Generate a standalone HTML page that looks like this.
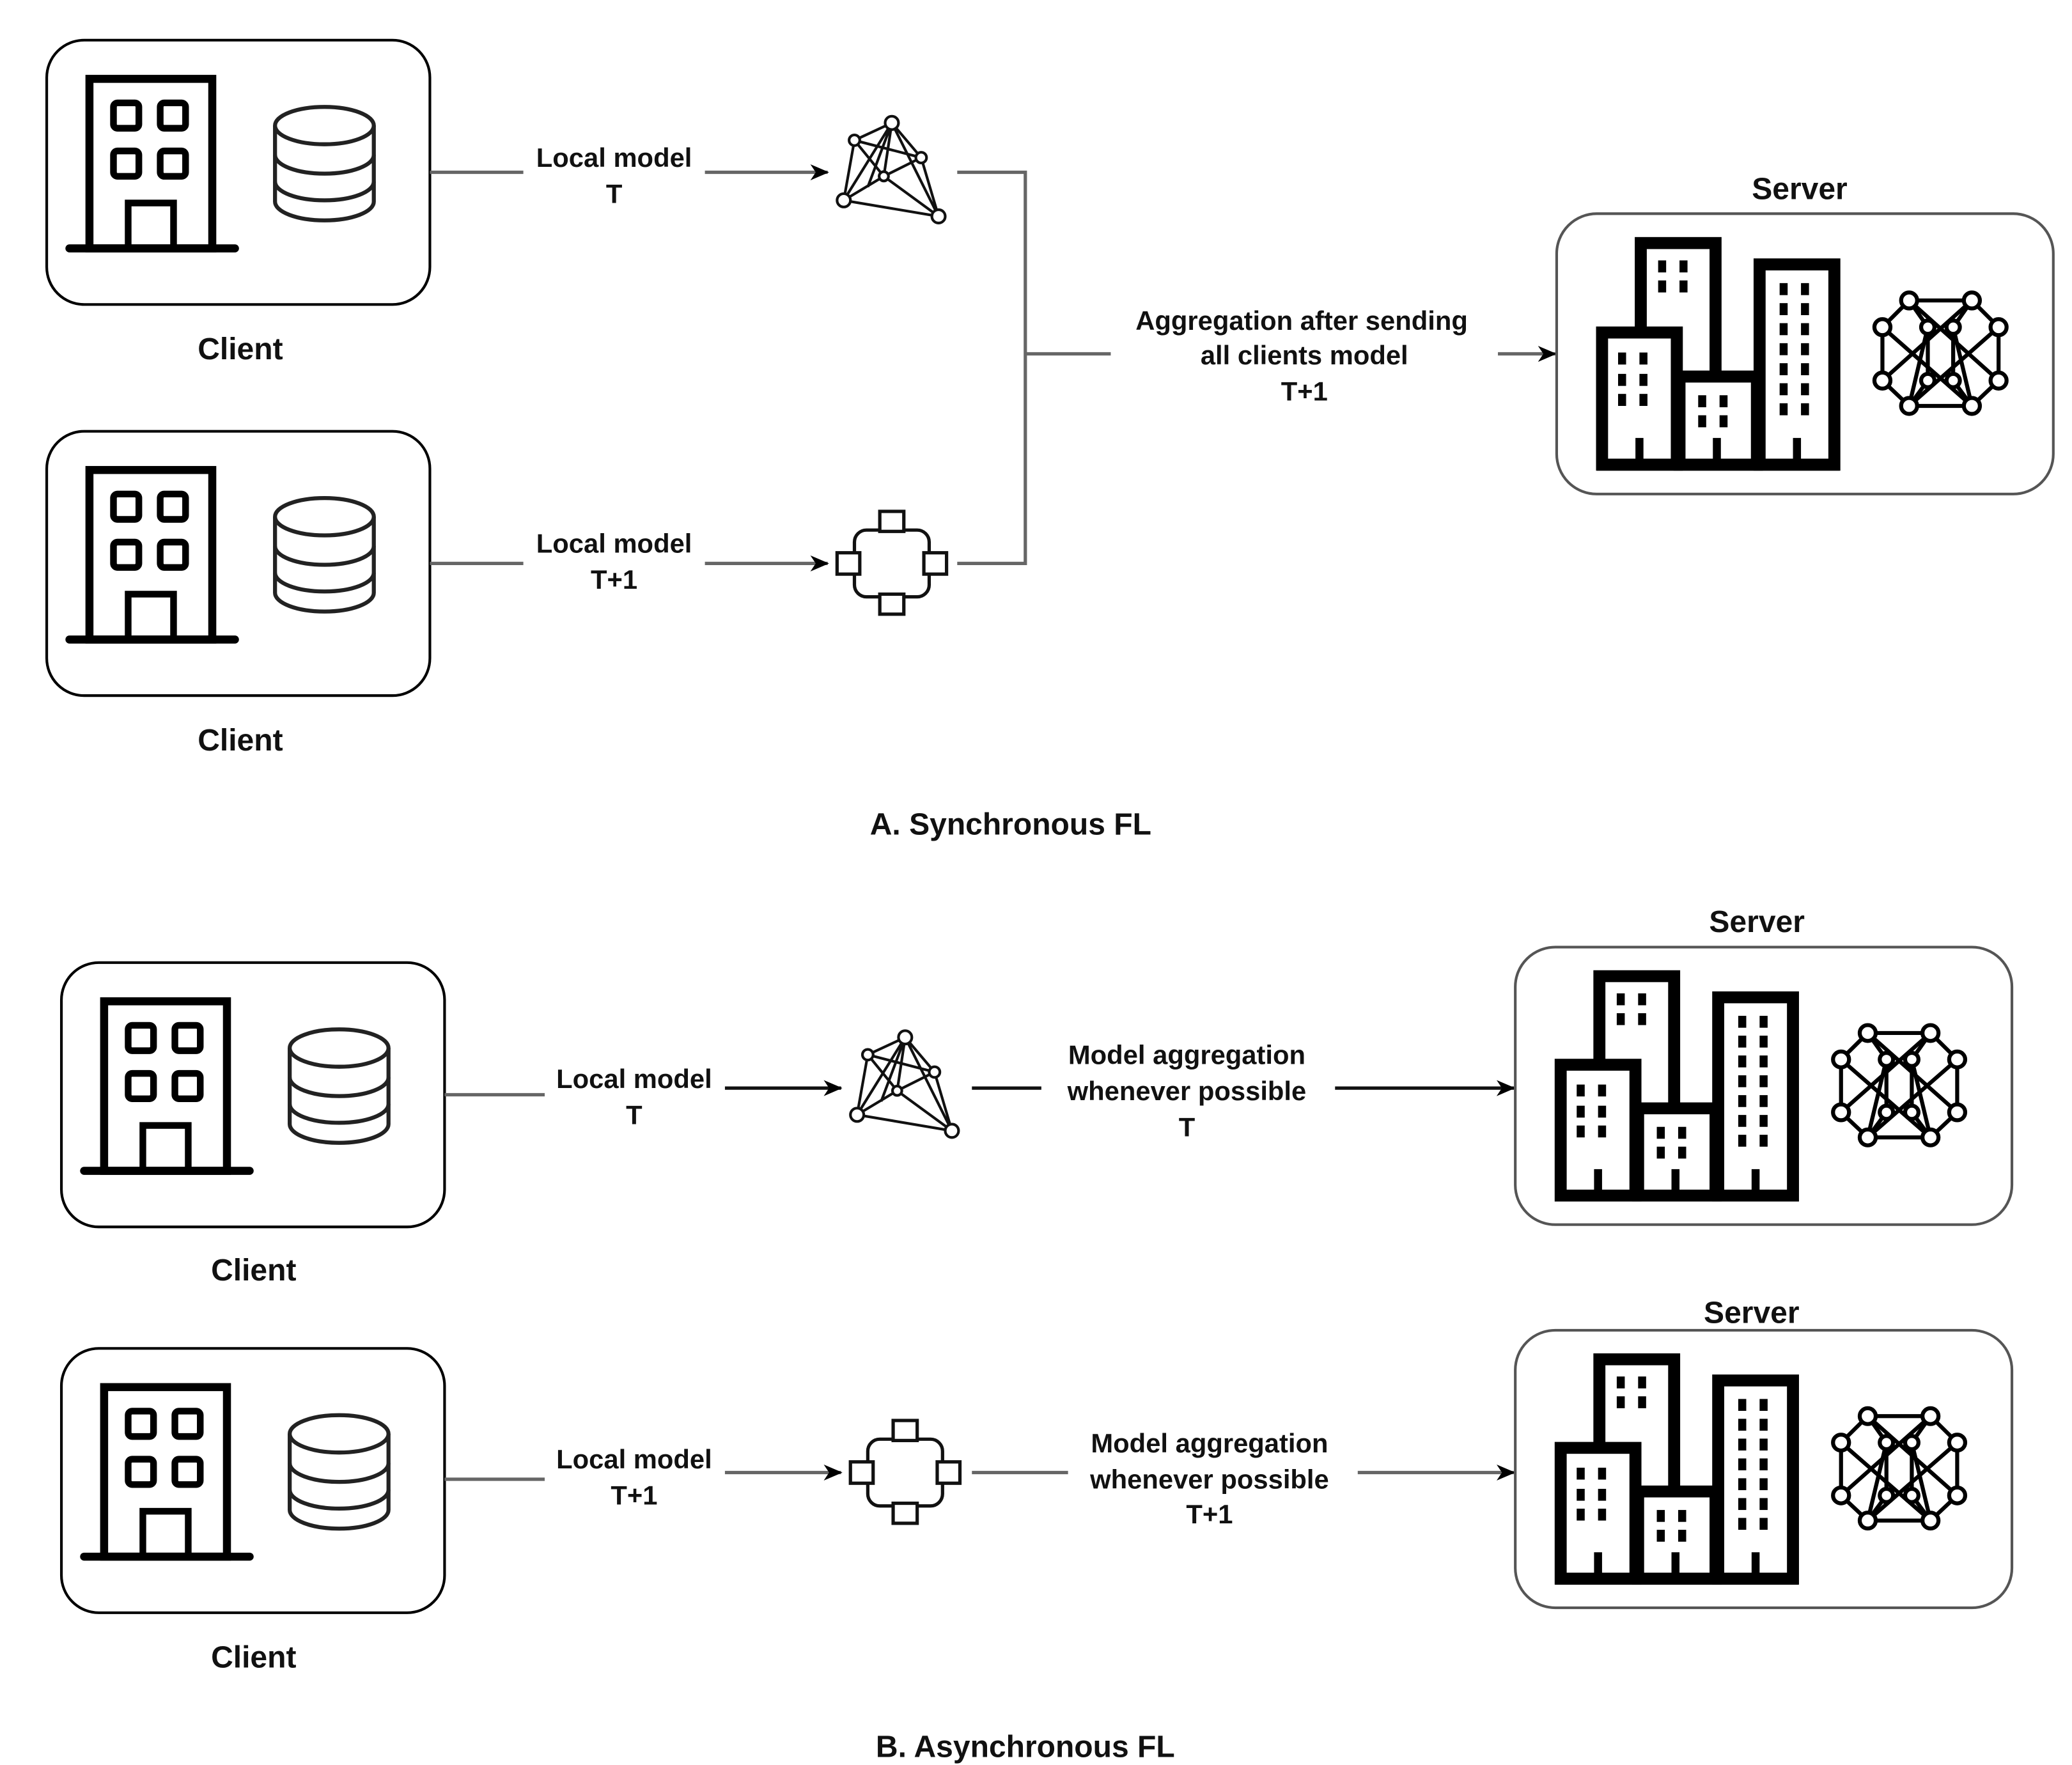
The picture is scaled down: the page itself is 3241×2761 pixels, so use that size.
<!DOCTYPE html>
<html><head><meta charset="utf-8"><style>
html,body{margin:0;padding:0;background:#fff;}
svg{display:block;}
text{font-family:"Liberation Sans",Arial,sans-serif;font-weight:bold;fill:#111;text-anchor:middle;}
</style></head><body>
<svg width="3241" height="2761" viewBox="0 0 1552 1322" xmlns="http://www.w3.org/2000/svg">
<defs>
<g id="bldg">
  <line x1="52" y1="186" x2="176" y2="186" stroke="#000" stroke-width="6" stroke-linecap="round"/>
  <rect x="67" y="59" width="92" height="127" fill="none" stroke="#000" stroke-width="6"/>
  <rect x="85" y="77" width="19" height="19" rx="3" fill="none" stroke="#000" stroke-width="5"/>
  <rect x="120" y="77" width="19" height="19" rx="3" fill="none" stroke="#000" stroke-width="5"/>
  <rect x="85" y="113" width="19" height="19" rx="3" fill="none" stroke="#000" stroke-width="5"/>
  <rect x="120" y="113" width="19" height="19" rx="3" fill="none" stroke="#000" stroke-width="5"/>
  <rect x="96" y="152" width="34" height="34" fill="none" stroke="#000" stroke-width="5"/>
  <g fill="none" stroke="#222" stroke-width="3">
    <path d="M206,94 V151 A37,14 0 0 0 280,151 V94"/>
    <ellipse cx="243" cy="94" rx="37" ry="14" fill="#fff"/>
    <path d="M206,116 A37,14 0 0 0 280,116"/>
    <path d="M206,136 A37,14 0 0 0 280,136"/>
  </g>
</g>
<g id="client">
  <rect x="35" y="30" width="287" height="198" rx="28" fill="#fff" stroke="#000" stroke-width="2"/>
  <use href="#bldg"/>
</g>
<g id="city">
  <g fill="#fff" stroke="#000" stroke-width="9">
    <rect x="1229" y="182" width="56" height="140"/>
    <rect x="1318" y="198" width="56" height="150"/>
    <rect x="1200" y="249" width="56" height="99"/>
    <rect x="1258" y="282" width="58" height="66"/>
  </g>
  <line x1="1196" y1="348" x2="1378" y2="348" stroke="#000" stroke-width="9"/>
  <g fill="#000">
    <rect x="1242" y="195" width="6" height="9"/><rect x="1258" y="195" width="6" height="9"/>
    <rect x="1242" y="210" width="6" height="9"/><rect x="1258" y="210" width="6" height="9"/>
    <rect x="1212" y="264" width="6" height="9"/><rect x="1228" y="264" width="6" height="9"/>
    <rect x="1212" y="280" width="6" height="9"/><rect x="1228" y="280" width="6" height="9"/>
    <rect x="1212" y="295" width="6" height="9"/><rect x="1228" y="295" width="6" height="9"/>
    <rect x="1272" y="296" width="6" height="9"/><rect x="1288" y="296" width="6" height="9"/>
    <rect x="1272" y="311" width="6" height="9"/><rect x="1288" y="311" width="6" height="9"/>
    <rect x="1333" y="212" width="6" height="9"/><rect x="1349" y="212" width="6" height="9"/>
    <rect x="1333" y="227" width="6" height="9"/><rect x="1349" y="227" width="6" height="9"/>
    <rect x="1333" y="242" width="6" height="9"/><rect x="1349" y="242" width="6" height="9"/>
    <rect x="1333" y="257" width="6" height="9"/><rect x="1349" y="257" width="6" height="9"/>
    <rect x="1333" y="272" width="6" height="9"/><rect x="1349" y="272" width="6" height="9"/>
    <rect x="1333" y="287" width="6" height="9"/><rect x="1349" y="287" width="6" height="9"/>
    <rect x="1333" y="302" width="6" height="9"/><rect x="1349" y="302" width="6" height="9"/>
    <rect x="1225" y="328" width="6" height="18"/><rect x="1283" y="328" width="6" height="18"/><rect x="1343" y="328" width="6" height="18"/>
  </g>
  <g fill="none" stroke="#000" stroke-width="3">
    <line x1="1430" y1="225" x2="1477" y2="225"/>
    <line x1="1430" y1="304" x2="1477" y2="304"/>
    <line x1="1410" y1="245" x2="1410" y2="285"/>
    <line x1="1497" y1="245" x2="1497" y2="285"/>
    <line x1="1444" y1="245" x2="1444" y2="285"/>
    <line x1="1463" y1="245" x2="1463" y2="285"/>
    <path d="M1430,225 L1497,285 M1477,225 L1410,285 M1430,304 L1497,245 M1477,304 L1410,245"/>
    <path d="M1430,225 L1444,245 L1430,304 M1477,225 L1463,245 L1477,304 M1444,285 L1430,304 M1463,285 L1477,304"/>
    <path d="M1410,245 L1430,225 M1497,245 L1477,225 M1410,285 L1430,304 M1497,285 L1477,304"/>
    <g fill="#fff" stroke-width="3">
      <circle cx="1430" cy="225" r="6"/><circle cx="1477" cy="225" r="6"/>
      <circle cx="1410" cy="245" r="6"/><circle cx="1497" cy="245" r="6"/>
      <circle cx="1444" cy="245" r="5"/><circle cx="1463" cy="245" r="5"/>
      <circle cx="1410" cy="285" r="6"/><circle cx="1497" cy="285" r="6"/>
      <circle cx="1444" cy="285" r="5"/><circle cx="1463" cy="285" r="5"/>
      <circle cx="1430" cy="304" r="6"/><circle cx="1477" cy="304" r="6"/>
    </g>
  </g>
</g>
<g id="server">
  <rect x="1166" y="160" width="372" height="210" rx="30" fill="#fff" stroke="#555" stroke-width="2"/>
  <use href="#city"/>
</g>
<g id="net">
  <g stroke="#111" stroke-width="2" fill="none">
    <path d="M668,92 L632,150 M668,92 L690,118 M668,92 L662,132 M668,92 L703,162 M640,105 L632,150 M640,105 L690,118 M640,105 L662,132 M690,118 L662,132 M690,118 L703,162 M662,132 L632,150 M662,132 L703,162 M632,150 L703,162 M640,105 L668,92 M668,92 L650,140"/>
  </g>
  <g fill="#fff" stroke="#111" stroke-width="2">
    <circle cx="668" cy="92" r="5"/><circle cx="640" cy="105" r="4"/><circle cx="690" cy="118" r="4"/>
    <circle cx="662" cy="132" r="3.5"/><circle cx="632" cy="150" r="5"/><circle cx="703" cy="162" r="5"/>
  </g>
</g>
<g id="ring">
  <rect x="640" y="397" width="56" height="50" rx="9" fill="none" stroke="#111" stroke-width="2.5"/>
  <g fill="#fff" stroke="#111" stroke-width="2.5">
    <rect x="659" y="383" width="18" height="15"/>
    <rect x="659" y="445" width="18" height="15"/>
    <rect x="627" y="414" width="17" height="16"/>
    <rect x="692" y="414" width="17" height="16"/>
  </g>
</g>
<marker id="ar" markerWidth="14" markerHeight="14" refX="13" refY="7" orient="auto" markerUnits="userSpaceOnUse">
  <path d="M0,1 L14,7 L0,13 L4,7 z" fill="#000"/>
</marker>
</defs>

<use href="#client"/>
<use href="#client" transform="translate(0,293)"/>
<text x="180" y="269" font-size="23">Client</text>
<text x="180" y="562" font-size="23">Client</text>

<g stroke="#666" stroke-width="2.5" fill="none">
  <line x1="322" y1="129" x2="392" y2="129"/>
  <line x1="528" y1="129" x2="620" y2="129" marker-end="url(#ar)"/>
  <line x1="322" y1="422" x2="392" y2="422"/>
  <line x1="528" y1="422" x2="620" y2="422" marker-end="url(#ar)"/>
  <polyline points="717,129 768,129 768,422 717,422"/>
  <line x1="768" y1="265" x2="832" y2="265"/>
  <line x1="1122" y1="265" x2="1165" y2="265" marker-end="url(#ar)"/>
</g>
<text x="460" y="125" font-size="20">Local model</text>
<text x="460" y="152" font-size="20">T</text>
<text x="460" y="414" font-size="20">Local model</text>
<text x="460" y="441" font-size="20">T+1</text>
<text x="975" y="247" font-size="20">Aggregation after sending</text>
<text x="977" y="273" font-size="20">all clients model</text>
<text x="977" y="300" font-size="20">T+1</text>

<use href="#net"/>
<use href="#ring"/>

<text x="1348" y="149" font-size="23">Server</text>
<use href="#server"/>

<text x="757" y="625" font-size="23">A. Synchronous FL</text>

<use href="#client" transform="translate(11,691)"/>
<use href="#client" transform="translate(11,980)"/>
<text x="190" y="959" font-size="23">Client</text>
<text x="190" y="1249" font-size="23">Client</text>

<g stroke="#666" stroke-width="2.5" fill="none">
  <line x1="333" y1="820" x2="408" y2="820"/>
  <line x1="543" y1="815" x2="630" y2="815" stroke="#111" marker-end="url(#ar)"/>
  <line x1="728" y1="815" x2="780" y2="815" stroke="#111"/>
  <line x1="1000" y1="815" x2="1134" y2="815" stroke="#111" marker-end="url(#ar)"/>
  <line x1="333" y1="1108" x2="408" y2="1108"/>
  <line x1="543" y1="1103" x2="630" y2="1103" marker-end="url(#ar)"/>
  <line x1="728" y1="1103" x2="800" y2="1103"/>
  <line x1="1017" y1="1103" x2="1134" y2="1103" marker-end="url(#ar)"/>
</g>
<text x="475" y="815" font-size="20">Local model</text>
<text x="475" y="842" font-size="20">T</text>
<text x="475" y="1100" font-size="20">Local model</text>
<text x="475" y="1127" font-size="20">T+1</text>
<text x="889" y="797" font-size="20">Model aggregation</text>
<text x="889" y="824" font-size="20">whenever possible</text>
<text x="889" y="851" font-size="20">T</text>
<text x="906" y="1088" font-size="20">Model aggregation</text>
<text x="906" y="1115" font-size="20">whenever possible</text>
<text x="906" y="1141" font-size="20">T+1</text>

<use href="#net" transform="translate(10,685)"/>
<use href="#ring" transform="translate(10,681)"/>

<text x="1316" y="698" font-size="23">Server</text>
<use href="#server" transform="translate(-31,551) scale(1,0.99)"/>
<text x="1312" y="991" font-size="23">Server</text>
<use href="#server" transform="translate(-31,838) scale(1,0.99)"/>

<text x="768" y="1316" font-size="23">B. Asynchronous FL</text>
</svg>
</body></html>
